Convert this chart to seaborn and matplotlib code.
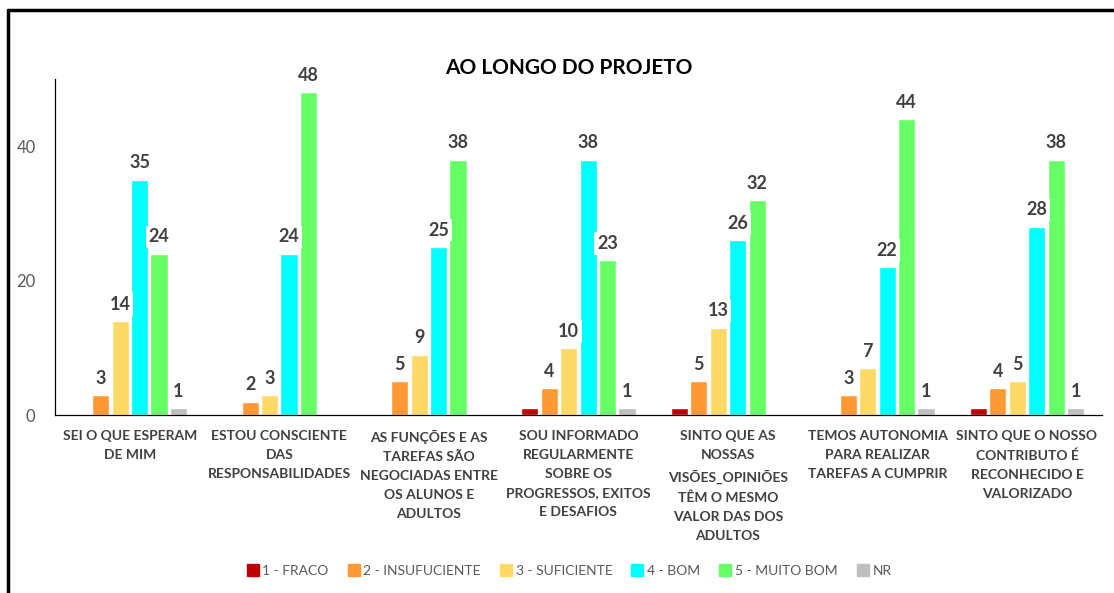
import matplotlib
matplotlib.use("Agg")
import matplotlib.pyplot as plt
from matplotlib.lines import Line2D
import pandas as pd
import seaborn as sns

# categories (x axis labels, wrapped like the original)
categories = [
    "SEI O QUE ESPERAM\nDE MIM",
    "ESTOU CONSCIENTE\nDAS\nRESPONSABILIDADES",
    "AS FUNÇÕES E AS\nTAREFAS SÃO\nNEGOCIADAS ENTRE\nOS ALUNOS E\nADULTOS",
    "SOU INFORMADO\nREGULARMENTE\nSOBRE OS\nPROGRESSOS, EXITOS\nE DESAFIOS",
    "SINTO QUE AS\nNOSSAS\nVISÕES_OPINIÕES\nTÊM O MESMO\nVALOR DAS DOS\nADULTOS",
    "TEMOS AUTONOMIA\nPARA REALIZAR\nTAREFAS A CUMPRIR",
    "SINTO QUE O NOSSO\nCONTRIBUTO É\nRECONHECIDO E\nVALORIZADO",
]

series_names = ["1 - FRACO", "2 - INSUFUCIENTE", "3 - SUFICIENTE",
                "4 - BOM", "5 - MUITO BOM", "NR"]

fraco = [0, 0, 0, 1, 1, 0, 1]
insuficiente = [3, 2, 5, 4, 5, 3, 4]
suficiente = [14, 3, 9, 10, 13, 7, 5]
bom = [35, 24, 25, 38, 26, 22, 28]
muito_bom = [24, 48, 38, 23, 32, 44, 38]
nr = [1, 0, 0, 1, 0, 1, 1]

colors = ["#C00000", "#FF9933", "#FFD966", "#00FFFF", "#66FF66", "#BFBFBF"]

yticks = [0, 20, 40]

all_series = [fraco, insuficiente, suficiente, bom, muito_bom, nr]
rows = []
for name, vals in zip(series_names, all_series):
    for cat, v in zip(categories, vals):
        rows.append({"categoria": cat, "serie": name, "valor": v})
df = pd.DataFrame(rows)

sns.set_style("white")
plt.rcParams["font.family"] = ["Lato", "DejaVu Sans"]

fig, ax = plt.subplots(figsize=(11.14, 5.93), dpi=100)
fig.subplots_adjust(left=0.0494, right=0.989, bottom=0.300, top=0.867)

sns.barplot(
    data=df, x="categoria", y="valor", hue="serie",
    hue_order=series_names, palette=colors,
    width=0.78, gap=0.12, ax=ax, saturation=1, legend=False,
)

# data labels (no label for FRACO or for zero values)
for i, (cont, vals) in enumerate(zip(ax.containers, all_series)):
    labels = ["" if (i == 0 or v == 0) else str(v) for v in vals]
    ax.bar_label(
        cont, labels=labels, padding=6, fontsize=13, fontweight="bold",
        color="#404040",
        bbox=dict(facecolor="white", edgecolor="none", pad=2),
        zorder=5,
    )

ax.set_ylim(0, 50)
ax.set_yticks(yticks)
ax.set_yticklabels([str(t) for t in yticks], color="#595959", fontsize=12)
ax.set_xticks(range(len(categories)))
ax.set_xticklabels(categories, fontweight="bold", color="#404040",
                   fontsize=10, linespacing=1.7, va="top")
ax.tick_params(axis="x", length=0, pad=11)
ax.tick_params(axis="y", length=0, pad=14)
ax.set_xlabel("")
ax.set_ylabel("")

sns.despine(ax=ax)
ax.spines["left"].set_color("black")
ax.spines["left"].set_linewidth(0.9)
ax.spines["bottom"].set_color("black")
ax.spines["bottom"].set_linewidth(0.9)

fig.text(0.511, 0.885, "AO LONGO DO PROJETO", ha="center", va="center",
         fontsize=15, fontweight="bold", color="black")

# square legend markers like the original
handles = [Line2D([], [], marker="s", linestyle="none", markersize=8,
                  markerfacecolor=c, markeredgecolor=c) for c in colors]
fig.legend(handles, series_names, loc="center", bbox_to_anchor=(0.511, 0.037),
           ncol=6, frameon=False, fontsize=10, handlelength=0.8,
           handletextpad=0.3, columnspacing=1.4, labelcolor="#595959")

# outer border lines (top and left)
fig.add_artist(Line2D([8 / 1114, 1], [1 - 10 / 593] * 2,
                      transform=fig.transFigure, color="black", lw=2.5))
fig.add_artist(Line2D([8 / 1114] * 2, [0, 1 - 10 / 593],
                      transform=fig.transFigure, color="black", lw=2.5))

fig.savefig("out.png", dpi=100)
